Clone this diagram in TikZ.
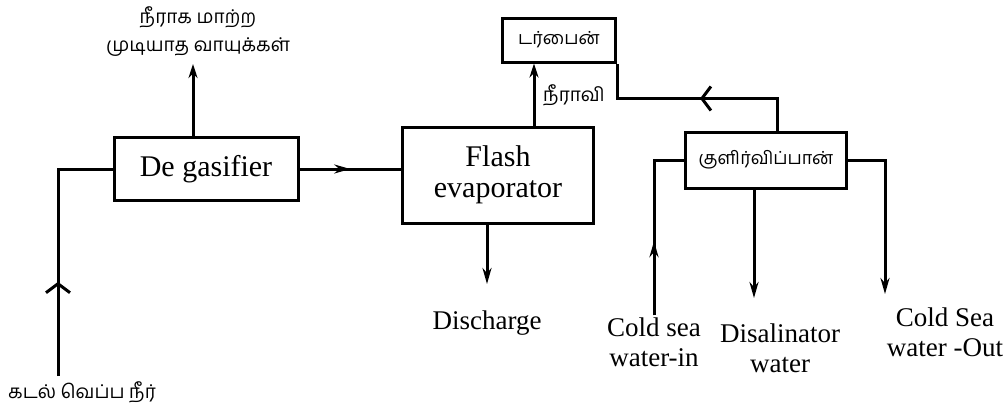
\documentclass[tikz,border=0pt]{standalone}
\usepackage{fontspec}
\setmainfont{Liberation Serif}
\newfontfamily\tamil[Script=Tamil]{Hind Madurai}
\usetikzlibrary{positioning,arrows.meta,calc,decorations.markings}

\begin{document}
\begin{tikzpicture}[x=1pt, y=-1pt,
    unit/.style={rectangle, draw, line width=3pt, inner sep=0pt, align=center, font=\fontsize{30}{31}\selectfont},
    flow/.style={line width=3pt},
    tag/.style={align=center, inner sep=2pt, font=\fontsize{27}{30}\selectfont},
    tamtag/.style={align=center, inner sep=2pt, font=\tamil\fontsize{19}{28}\selectfont},
    down/.style={-{Stealth[length=16pt, width=9pt]}},
    up/.style={-{Stealth[length=14pt, width=9pt]}},
    barbmark/.style={postaction={decorate}, decoration={markings,
        mark=at position #1 with {\arrow{Straight Barb[length=9pt, width=24pt, line width=3pt]}}}},
    fillmark/.style={postaction={decorate}, decoration={markings,
        mark=at position #1 with {\arrow{Stealth[length=16pt, width=9pt]}}}}
]
\useasboundingbox (0,0) rectangle (1005,415);

% units
\node[unit, minimum width=184pt, minimum height=63pt] (degas) at (206,169) {De gasifier};
\node[unit, minimum width=191pt, minimum height=96pt] (flash) at (498,175) {Flash\\evaporator};
\node[unit, minimum width=113pt, minimum height=44pt, font=\tamil\fontsize{18}{20}\selectfont] (turbine) at (559,40) {டர்பைன்};
\node[unit, minimum width=161pt, minimum height=56pt, font=\tamil\fontsize{18}{20}\selectfont] (cooler) at (766,160) {குளிர்விப்பான்};

% labels
\node[tamtag] (gases) at (198,32) {நீராக மாற்ற\\முடியாத வாயுக்கள்};
\node[tamtag] (seain) at (82,392) {கடல் வெப்ப நீர்};
\node[tamtag, anchor=west] (steam) at (541,95) {நீராவி};
\node[tag] (disch) at (487,323) {Discharge};
\node[tag] (coldin) at (654,342) {Cold sea\\water-in};
\node[tag] (desal) at (780,348) {Disalinator\\water};
\node[tag] (coldout) at (945,332) {Cold Sea\\water -Out};

\coordinate (inlet) at (58,376);
\coordinate (gasend) at (193,64);
\coordinate (dischend) at (487,284);
\coordinate (desalend) at (754,298);
\coordinate (outend) at (885,294);

% flows
\draw[flow, barbmark=0.36] (inlet) |- (degas.west);
\draw[flow, up] (degas.north -| gasend) -- (gasend);
\draw[flow, fillmark=0.5] (degas.east) -- (degas.east -| flash.west);
\draw[flow, up] ([xshift=36pt]flash.north) -- ([xshift=36pt]flash.north |- turbine.south);
\draw[flow, down] (flash.south -| dischend) -- (dischend);
\draw[flow, barbmark=0.48] ([xshift=11pt]cooler.north) |- ([yshift=-35pt]turbine.south east) -- (turbine.south east);
\draw[flow, fillmark=0.4] (coldin.north) |- (cooler.west);
\draw[flow, down] (cooler.south -| desalend) -- (desalend);
\draw[flow, down] (cooler.east) -| (outend);
\end{tikzpicture}
\end{document}
